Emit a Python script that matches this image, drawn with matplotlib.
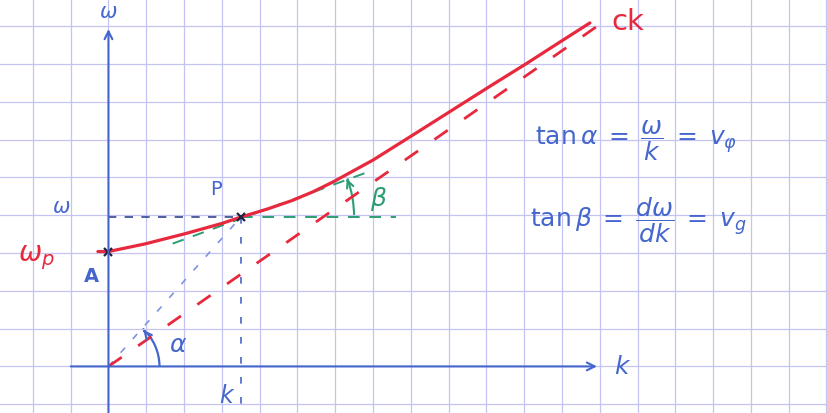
import matplotlib.pyplot as plt
import numpy as np
from matplotlib.patches import Arc

# dispersion sketch, in units of one grid square
k_curve = [-0.28, 0.0, 0.96, 2.02, 2.99, 3.5, 4.22, 4.86, 5.41, 5.94,
           7.0, 8.05, 9.22, 10.09, 11.07, 11.94, 12.74]
w_curve = [3.04, 3.04, 3.24, 3.51, 3.78, 3.95, 4.17, 4.39, 4.62, 4.88,
           5.46, 6.12, 6.86, 7.41, 8.02, 8.58, 9.09]

asym_k = [0.0, 13.0]          # dashed asymptote omega = ck
asym_w = [0.0, 9.05]

P = (3.5, 3.95)               # working point
omega_p = 3.04                # intercept A
tang_k = [1.7, 6.8]           # tangent at P
tang_w = [3.25, 5.12]

RED = '#e8283c'
BLUE = '#4566cc'
LBLUE = '#7f93e0'
NAVY = '#34448c'
GREEN = '#2a9d72'
GRID = '#c4c4f2'

fig = plt.figure(figsize=(8.28, 4.14), dpi=100)
ax = fig.add_axes([0, 0, 1, 1])
ax.set_xlim(-2.87, 19.04)
ax.set_ylim(-1.23, 9.72)
ax.set_aspect('equal')
ax.set_xticks(np.arange(-2, 20))
ax.set_yticks(np.arange(-1, 10))
ax.grid(True, color=GRID, lw=0.9)
ax.tick_params(length=0, labelbottom=False, labelleft=False)
for s in ax.spines.values():
    s.set_visible(False)

# axes arrows
ax.annotate('', xy=(13.0, 0.0), xytext=(-1.07, 0.0),
            arrowprops=dict(arrowstyle='->', color=BLUE, lw=1.5, mutation_scale=14))
ax.annotate('', xy=(0.0, 9.0), xytext=(0.0, -1.3),
            arrowprops=dict(arrowstyle='->', color=BLUE, lw=1.5, mutation_scale=14))

# guide lines through P
ax.plot([0, P[0]], [P[1], P[1]], color=NAVY, lw=1.2, dashes=(5, 5))
ax.plot([P[0], P[0]], [P[1], -1.0], color=BLUE, lw=1.2, dashes=(4, 8))
ax.plot([0, P[0]], [0, P[1]], color=LBLUE, lw=1.2, dashes=(4, 7))
ax.plot([P[0], 7.6], [P[1], P[1]], color=GREEN, lw=1.4, dashes=(6, 5))
ax.plot(tang_k, tang_w, color=GREEN, lw=1.4, dashes=(6, 5))

# asymptote and dispersion curve
ax.plot(asym_k, asym_w, color=RED, lw=2.0, dashes=(5.8, 7.2))
ax.plot(k_curve, w_curve, color=RED, lw=2.3, solid_capstyle='round',
        solid_joinstyle='round')
ax.plot([0, P[0]], [omega_p, P[1]], 'x', color='#222244', ms=6, mew=1.6)

# angle arcs
ax.add_patch(Arc((0, 0), 2.7, 2.7, theta1=0, theta2=48, color=BLUE, lw=1.6))
ax.annotate('', xy=(0.88, 1.02), xytext=(1.0, 0.87),
            arrowprops=dict(arrowstyle='->', color=BLUE, lw=1.6, mutation_scale=12))
ax.add_patch(Arc(P, 6.0, 6.0, theta1=0, theta2=20, color=GREEN, lw=1.5))
ax.annotate('', xy=(P[0] + 2.78, P[1] + 1.08), xytext=(P[0] + 2.86, P[1] + 0.88),
            arrowprops=dict(arrowstyle='->', color=GREEN, lw=1.5, mutation_scale=12))

# labels
ax.text(0.0, 9.15, r'$\omega$', color=BLUE, fontsize=15, ha='center', va='bottom')
ax.text(13.6, 0.0, r'$k$', color=BLUE, fontsize=18, ha='center', va='center')
ax.text(3.15, -0.75, r'$k$', color=BLUE, fontsize=17, ha='center', va='center')
ax.text(-1.25, 4.25, r'$\omega$', color=BLUE, fontsize=15, ha='center', va='center')
ax.text(2.85, 4.7, 'P', color=BLUE, fontsize=14, ha='center', va='center')
ax.text(-0.45, 2.4, 'A', color=BLUE, fontsize=14, ha='center', va='center', fontweight='bold')
ax.text(-1.9, 2.9, r'$\omega_p$', color=RED, fontsize=20, ha='center', va='center')
ax.text(13.75, 9.15, 'ck', color=RED, fontsize=21, ha='center', va='center')
ax.text(1.85, 0.6, r'$\alpha$', color=BLUE, fontsize=18, ha='center', va='center')
ax.text(7.15, 4.45, r'$\beta$', color=GREEN, fontsize=18, ha='center', va='center')

ax.text(11.3, 6.0, r'$\mathrm{tan}\,\alpha\;=\;\dfrac{\omega}{k}\;=\;v_\varphi$',
        color=BLUE, fontsize=18, ha='left', va='center')
ax.text(11.15, 3.9, r'$\mathrm{tan}\,\beta\;=\;\dfrac{d\omega}{dk}\;=\;v_g$',
        color=BLUE, fontsize=18, ha='left', va='center')

fig.savefig('out.png', dpi=100, facecolor='white')
